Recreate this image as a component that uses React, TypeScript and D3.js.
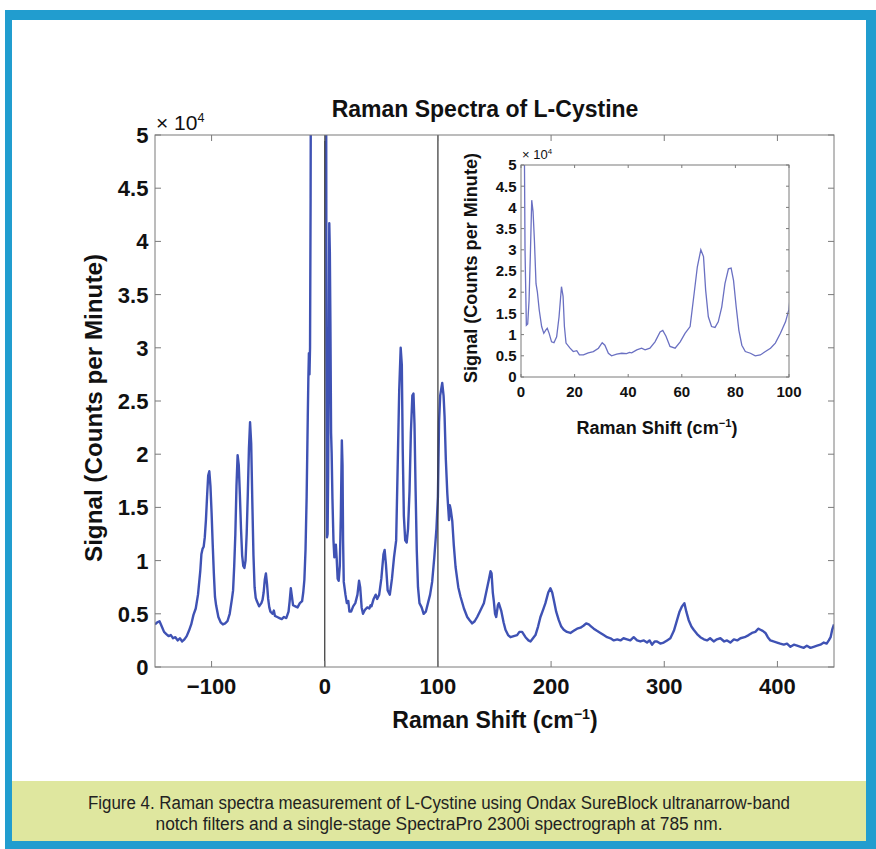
import { useEffect, useRef } from 'react';
import * as d3 from 'd3';

// Raman shift (cm-1) and signal (x 10^4 counts per minute)
const shift = [
  -150, -148, -146, -144, -142, -140, -138, -136, -134, -132, -130, -128, -126, -124, -122, -120,
  -118, -116, -114, -112, -110, -109, -108, -107, -106, -105, -104, -103, -102, -101, -100, -99,
  -98, -97, -96, -94, -92, -90, -88, -86, -84, -82, -81, -80, -79, -78, -77, -76, -75, -74, -73,
  -72, -71, -70, -69, -68, -67, -66, -65, -64, -63, -62, -61, -60, -58, -56, -55, -54, -53, -52,
  -51, -50, -49, -48, -46, -45, -44, -42, -40, -38, -36, -34, -33, -32, -31, -30, -29, -28, -26,
  -24, -22, -20, -19, -18, -17, -16, -15, -14.5, -14, -13.5, -13, -12.5, -12, -8, -4, 0, 1, 1.5,
  2, 2.5, 3, 3.5, 4, 4.5, 5, 5.6, 6.1, 6.8, 7.7, 8.5, 9.3, 9.8, 10.5, 11.4, 12.3, 13.3, 14.2, 15.1,
  15.7, 16.2, 16.8, 18.3, 19.5, 20.8, 21.8, 23.3, 25.1, 27, 28.9, 30.3, 31.3, 32.6, 33.8, 35.7,
  37.6, 39.4, 40.5, 41.3, 43.2, 45, 46.3, 48.1, 50, 51.9, 52.9, 54.1, 55.6, 57.5, 59.4, 61.2, 63.1,
  64.6, 65.8, 67.1, 68.1, 68.9, 69.9, 71.1, 72.4, 73.6, 74.9, 76.1, 77.4, 78.4, 79.3, 80.3, 81.3,
  82.4, 83.7, 85.6, 87.4, 89.3, 91.2, 93.1, 94.9, 96.8, 98.7, 100, 101, 102, 103.8, 105, 105.9,
  107, 108.3, 109.8, 110.5, 111.3, 112.7, 114, 115.6, 118, 120, 123, 125.9, 128, 130.3, 132.5,
  134.7, 137, 140.6, 143, 145, 146.5, 147.4, 148.5, 149.4, 150.5, 151.5, 153, 153.8, 155.9, 158,
  159.7, 162, 164.1, 167, 170, 172, 174.4, 177.4, 180, 181.8, 184, 186.2, 188.5, 190.6, 193, 195,
  197.5, 199.4, 201, 202.4, 204.5, 206.8, 209, 211.2, 214, 217.1, 220, 223, 226, 228.9, 231, 233.3,
  235.5, 237.7, 240.5, 243.6, 246.5, 249.5, 252.5, 255.4, 258.5, 261.3, 264, 267.1, 270, 273, 276,
  278.9, 282, 284.8, 287, 289.2, 291.5, 293.6, 296.5, 299.5, 302.5, 305.4, 308.5, 311.3, 313.5,
  315.7, 317.8, 319.5, 321.6, 324, 326, 329, 331.9, 335, 337.8, 340.5, 343.7, 346.5, 349.6, 353,
  355.5, 358.4, 361.5, 364.5, 367.3, 371, 374.6, 377.5, 380.5, 383, 385, 387, 389.4, 391.5, 393.8,
  396.5, 399.7, 402.5, 405.6, 408.5, 411.5, 414.5, 417.4, 420.5, 423.3, 426, 429.2, 432, 435.1,
  438, 441, 443.5, 445.4, 447, 448.4, 450,
];
const signal = [
  0.40, 0.42, 0.43, 0.38, 0.33, 0.31, 0.29, 0.30, 0.27, 0.28, 0.25, 0.27, 0.24, 0.26, 0.29, 0.34,
  0.40, 0.49, 0.55, 0.68, 0.90, 1.06, 1.11, 1.13, 1.22, 1.38, 1.60, 1.80, 1.84, 1.70, 1.45, 1.15,
  0.88, 0.66, 0.58, 0.47, 0.42, 0.40, 0.41, 0.43, 0.50, 0.64, 0.72, 0.95, 1.25, 1.70, 1.99, 1.90,
  1.62, 1.30, 1.05, 0.95, 0.93, 1.00, 1.25, 1.62, 2.05, 2.30, 2.10, 1.55, 1.05, 0.75, 0.65, 0.62,
  0.57, 0.60, 0.63, 0.70, 0.82, 0.88, 0.78, 0.64, 0.56, 0.52, 0.50, 0.53, 0.48, 0.47, 0.46, 0.45,
  0.47, 0.46, 0.49, 0.52, 0.62, 0.74, 0.66, 0.58, 0.57, 0.56, 0.60, 0.62, 0.70, 0.82, 1.10, 1.60,
  2.35, 2.70, 2.95, 2.75, 3.00, 4.40, 7.0, 12, 15, 12, 8, 3.0,
  1.22, 1.25, 1.80, 2.90, 4.17, 3.90, 3.23, 2.20, 2.01, 1.58, 1.19, 1.03, 1.11, 1.15, 1.03, 0.83,
  0.81, 0.95, 1.42, 2.13, 1.90, 1.19, 0.80, 0.68, 0.60, 0.62, 0.52, 0.52, 0.57, 0.60, 0.68, 0.81,
  0.75, 0.56, 0.50, 0.54, 0.56, 0.55, 0.58, 0.57, 0.64, 0.68, 0.64, 0.68, 0.83, 1.06, 1.10, 0.96,
  0.72, 0.68, 0.83, 1.03, 1.19, 1.97, 2.60, 3.00, 2.84, 2.05, 1.42, 1.19, 1.17, 1.30, 1.65, 2.20,
  2.55, 2.57, 2.28, 1.65, 1.10, 0.75, 0.60, 0.56, 0.50, 0.52, 0.60, 0.68, 0.80, 1.03, 1.30, 1.60,
  2.30, 2.55, 2.67, 2.55, 2.35, 1.95, 1.63, 1.38, 1.52, 1.48, 1.37, 1.15, 0.94, 0.75, 0.66, 0.55,
  0.47, 0.44, 0.41, 0.43, 0.47, 0.52, 0.60, 0.72, 0.82, 0.90, 0.88, 0.70, 0.62, 0.50, 0.47, 0.58,
  0.60, 0.53, 0.42, 0.35, 0.30, 0.28, 0.29, 0.30, 0.33, 0.33, 0.28, 0.25, 0.24, 0.27, 0.30, 0.38,
  0.47, 0.54, 0.60, 0.70, 0.74, 0.70, 0.63, 0.52, 0.44, 0.38, 0.35, 0.33, 0.32, 0.34, 0.36, 0.37,
  0.39, 0.41, 0.40, 0.38, 0.36, 0.34, 0.32, 0.30, 0.28, 0.27, 0.25, 0.26, 0.25, 0.27, 0.26, 0.25,
  0.28, 0.25, 0.24, 0.25, 0.23, 0.25, 0.21, 0.24, 0.24, 0.22, 0.23, 0.25, 0.27, 0.34, 0.44, 0.52,
  0.57, 0.60, 0.52, 0.44, 0.38, 0.35, 0.31, 0.28, 0.26, 0.25, 0.27, 0.24, 0.26, 0.27, 0.24, 0.25,
  0.23, 0.26, 0.25, 0.27, 0.28, 0.30, 0.32, 0.33, 0.36, 0.35, 0.34, 0.32, 0.28, 0.25, 0.24, 0.23,
  0.22, 0.21, 0.22, 0.19, 0.21, 0.20, 0.19, 0.18, 0.20, 0.18, 0.19, 0.20, 0.21, 0.23, 0.22, 0.25,
  0.28, 0.35, 0.40,
];

const mainXTicks = [-100, 0, 100, 200, 300, 400];
const yTicks = [0, 0.5, 1, 1.5, 2, 2.5, 3, 3.5, 4, 4.5, 5];
const insetXTicks = [0, 20, 40, 60, 80, 100];
const zoomWindow = [0, 100];

const title = 'Raman Spectra of L-Cystine';
const yLabel = 'Signal (Counts per Minute)';
const captionLines = [
  'Figure 4. Raman spectra measurement of L-Cystine using Ondax SureBlock ultranarrow-band',
  'notch filters and a single-stage SpectraPro 2300i spectrograph at 785 nm.',
];

const FONT = "'Liberation Sans', Arial, Helvetica, sans-serif";
const BLUE = '#219dcf';

type G = d3.Selection<SVGGElement, unknown, null, undefined>;

function frame(g: G, x: d3.ScaleLinear<number, number>, y: d3.ScaleLinear<number, number>,
  xt: number[], yt: number[], tick: number, fs: number, xGap: number) {
  const [x0, x1] = x.range();
  const [y0, y1] = y.range();
  g.append('rect').attr('x', x0).attr('y', y1).attr('width', x1 - x0).attr('height', y0 - y1)
    .attr('fill', 'none').attr('stroke', '#7a7a7a').attr('stroke-width', 1);
  xt.forEach(v => {
    g.append('line').attr('x1', x(v)).attr('x2', x(v)).attr('y1', y0).attr('y2', y0 - tick).attr('stroke', '#7a7a7a');
    g.append('line').attr('x1', x(v)).attr('x2', x(v)).attr('y1', y1).attr('y2', y1 + tick).attr('stroke', '#7a7a7a');
    g.append('text').attr('x', x(v)).attr('y', y0 + xGap).attr('text-anchor', 'middle')
      .attr('font-size', fs).attr('font-weight', 'bold').attr('font-family', FONT).attr('fill', '#111')
      .text(v < 0 ? `\u2212${Math.abs(v)}` : String(v));
  });
  yt.forEach(v => {
    g.append('line').attr('x1', x0).attr('x2', x0 + tick).attr('y1', y(v)).attr('y2', y(v)).attr('stroke', '#7a7a7a');
    g.append('line').attr('x1', x1).attr('x2', x1 - tick).attr('y1', y(v)).attr('y2', y(v)).attr('stroke', '#7a7a7a');
    g.append('text').attr('x', x0 - fs * 0.3).attr('y', y(v) + fs * 0.36).attr('text-anchor', 'end')
      .attr('font-size', fs).attr('font-weight', 'bold').attr('font-family', FONT).attr('fill', '#111')
      .text(String(v));
  });
}

function cmLabel(g: G, cx: number, cy: number, fs: number) {
  const t = g.append('text').attr('x', cx).attr('y', cy).attr('text-anchor', 'middle')
    .attr('font-size', fs).attr('font-weight', 'bold').attr('font-family', FONT).attr('fill', '#111');
  t.append('tspan').text('Raman Shift (cm');
  t.append('tspan').attr('dy', -fs * 0.4).attr('font-size', fs * 0.62).text('\u22121');
  t.append('tspan').attr('dy', fs * 0.4).text(')');
}

function exponent(g: G, x0: number, yb: number, fs: number) {
  const t = g.append('text').attr('x', x0).attr('y', yb).attr('font-size', fs).attr('font-family', FONT).attr('fill', '#111');
  t.append('tspan').text('\u00d7 10');
  t.append('tspan').attr('dy', -fs * 0.4).attr('font-size', fs * 0.6).text('4');
}

export default function App() {
  const svgRef = useRef<SVGSVGElement>(null);

  useEffect(() => {
    if (!svgRef.current) return;
    const svg = d3.select(svgRef.current);
    svg.selectAll('*').remove();
    const W = 876, H = 849;

    // page frame
    svg.append('rect').attr('width', W).attr('height', H).attr('fill', '#fff');
    svg.append('rect').attr('x', 5).attr('y', 10).attr('width', W - 5).attr('height', H - 10).attr('fill', BLUE);
    svg.append('rect').attr('x', 12).attr('y', 20).attr('width', 854).attr('height', 761).attr('fill', '#fff');
    svg.append('rect').attr('x', 12).attr('y', 781).attr('width', 854).attr('height', 60).attr('fill', '#dfe79f');
    captionLines.forEach((line, i) => {
      svg.append('text').attr('x', 439).attr('y', 809 + i * 21).attr('text-anchor', 'middle')
        .attr('font-size', 18).attr('font-family', "'Liberation Sans Narrow', 'Liberation Sans', sans-serif")
        .attr('fill', '#222')
        .attr('textLength', i === 0 ? 702 : 567).attr('lengthAdjust', 'spacingAndGlyphs')
        .text(line);
    });

    const defs = svg.append('defs');
    const data = shift.map((s, i) => [s, signal[i]] as [number, number]);

    // main axes
    const x = d3.scaleLinear().domain([-150, 450]).range([155, 834]);
    const y = d3.scaleLinear().domain([0, 5]).range([667, 135]);
    defs.append('clipPath').attr('id', 'clip-main').append('rect')
      .attr('x', 155).attr('y', 135).attr('width', 679).attr('height', 532);
    const main = svg.append('g');
    const line = d3.line<[number, number]>().x(d => x(d[0])).y(d => y(d[1]));
    main.append('path').datum(data).attr('d', line).attr('clip-path', 'url(#clip-main)')
      .attr('fill', 'none').attr('stroke', '#3f52b4').attr('stroke-width', 2.4).attr('stroke-linejoin', 'round');
    zoomWindow.forEach(v => {
      main.append('line').attr('x1', x(v)).attr('x2', x(v)).attr('y1', y(0)).attr('y2', y(5))
        .attr('stroke', '#333').attr('stroke-width', 1.2);
    });
    frame(main, x, y, mainXTicks, yTicks, 6, 22, 27);
    exponent(main, 156, 130, 21);
    main.append('text').attr('x', 485).attr('y', 117).attr('text-anchor', 'middle')
      .attr('font-size', 23).attr('font-weight', 'bold').attr('font-family', FONT).attr('fill', '#111')
      .text(title);
    main.append('text').attr('transform', 'translate(102,408) rotate(-90)').attr('text-anchor', 'middle')
      .attr('font-size', 23).attr('font-weight', 'bold').attr('font-family', FONT).attr('fill', '#111')
      .attr('textLength', 308).attr('lengthAdjust', 'spacingAndGlyphs').text(yLabel);
    cmLabel(main, 495, 728, 23);

    // inset axes
    const xi = d3.scaleLinear().domain([0, 100]).range([521, 789]);
    const yi = d3.scaleLinear().domain([0, 5]).range([377, 165]);
    defs.append('clipPath').attr('id', 'clip-inset').append('rect')
      .attr('x', 521).attr('y', 165).attr('width', 268).attr('height', 212);
    const inset = svg.append('g');
    inset.append('rect').attr('x', 521).attr('y', 165).attr('width', 268).attr('height', 212).attr('fill', '#fff');
    const lineI = d3.line<[number, number]>().x(d => xi(d[0])).y(d => yi(d[1]));
    inset.append('path').datum(data.filter(d => d[0] >= -2 && d[0] <= 101)).attr('d', lineI)
      .attr('clip-path', 'url(#clip-inset)').attr('fill', 'none').attr('stroke', '#6a70c2').attr('stroke-width', 1.3);
    frame(inset, xi, yi, insetXTicks, yTicks, 3, 15, 20);
    exponent(inset, 522, 159, 13);
    inset.append('text').attr('transform', 'translate(477,268) rotate(-90)').attr('text-anchor', 'middle')
      .attr('font-size', 18).attr('font-weight', 'bold').attr('font-family', FONT).attr('fill', '#111')
      .attr('textLength', 230).attr('lengthAdjust', 'spacingAndGlyphs').text(yLabel);
    cmLabel(inset, 657, 434, 18);
  }, []);

  return <svg ref={svgRef} width={876} height={849} style={{ position: 'absolute', left: 0, top: 0 }} />;
}
